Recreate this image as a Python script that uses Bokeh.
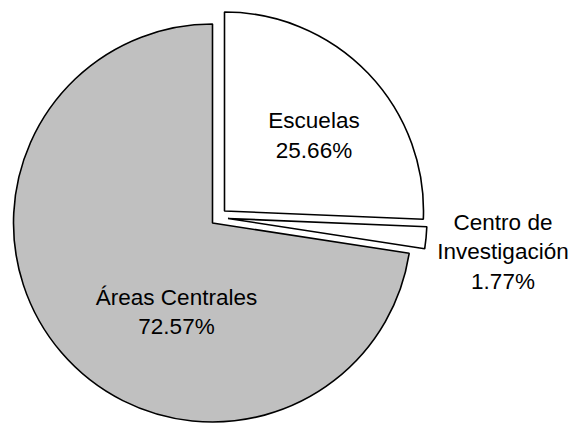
import math
from bokeh.plotting import figure
from bokeh.models import Range1d, ColumnDataSource
from bokeh.core.properties import value
from bokeh.embed import file_html
from bokeh.resources import INLINE

# ---- data ----
categories = ["Escuelas", "Centro de Investigación", "Áreas Centrales"]
label_lines = [["Escuelas"], ["Centro de", "Investigación"], ["Áreas Centrales"]]
percentages = [25.66, 1.77, 72.57]
colors = ["#FFFFFF", "#FFFFFF", "#C0C0C0"]

# ---- layout (pixels, origin at pie centre) ----
W, H = 573, 423
CX, CY = 212, 222.5          # pie centre inside plot frame (from left / from top)
R = 199
explode = [(12, 12), (15.5, 4.5), (0, 0)]
label_anchor = [(101.5, 102.5), (290.5, 0.8), (-36, -74.2)]
LINE_GAP = 29.5
FONT = "Liberation Sans"
FONT_SIZE = "22.5px"

p = figure(width=W, height=H, output_backend="svg", toolbar_location=None,
           x_range=Range1d(-CX, W - CX), y_range=Range1d(-(H - CY), CY),
           min_border=0, outline_line_color=None)
p.axis.visible = False
p.grid.visible = False
p.background_fill_color = "white"
p.border_fill_color = "white"

total = sum(percentages)
a = math.pi / 2
xs, ys, starts, ends = [], [], [], []
for pct, (dx, dy) in zip(percentages, explode):
    sweep = pct / total * 2 * math.pi
    starts.append(a - sweep)
    ends.append(a)
    xs.append(dx)
    ys.append(dy)
    a -= sweep

src = ColumnDataSource(dict(x=xs, y=ys, start=starts, end=ends, color=colors))
p.wedge(x="x", y="y", radius=R, start_angle="start", end_angle="end",
        fill_color="color", line_color="black", line_width=1.6, source=src)

tx, ty, tt = [], [], []
for lines, pct, (ax, ay) in zip(label_lines, percentages, label_anchor):
    all_lines = lines + [f"{pct:.2f}%"]
    for i, s in enumerate(all_lines):
        tx.append(ax)
        ty.append(ay - i * LINE_GAP)
        tt.append(s)

p.text(x=tx, y=ty, text=tt, text_align="center", text_baseline="alphabetic",
       text_font=value(FONT), text_font_size=FONT_SIZE, text_color="black")

open("out.html", "w").write(file_html(p, INLINE))
